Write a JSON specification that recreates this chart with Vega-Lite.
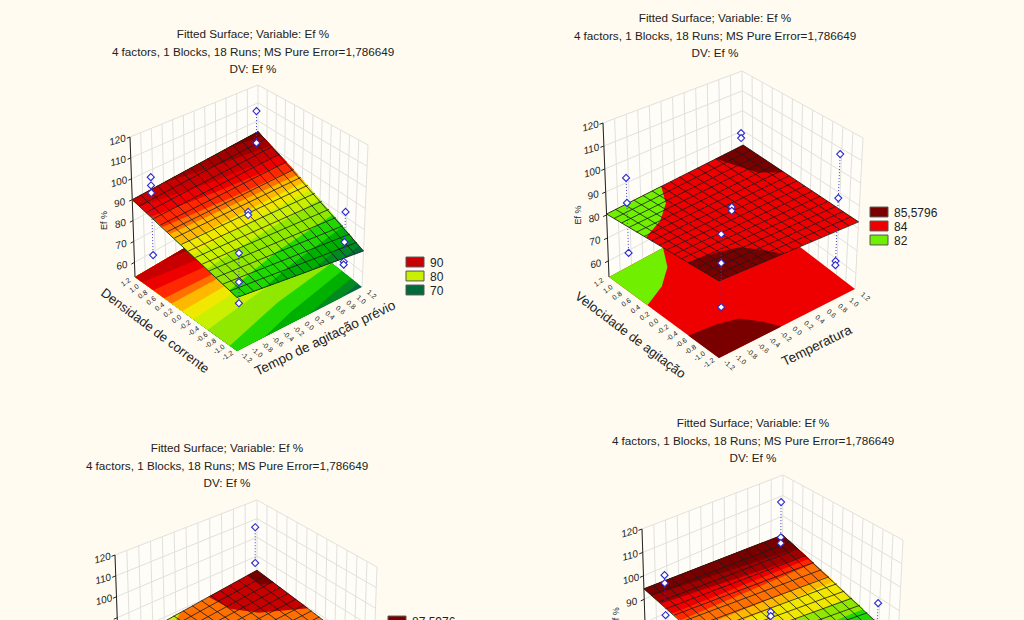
{"$schema":"https://vega.github.io/schema/vega-lite/v6.json","width":1024,"height":620,"padding":0,"autosize":{"type":"fit","contains":"padding"},"background":"#fffbf0","config":{"view":{"stroke":null}},
"datasets":{"panels":[
{"p":1,"fFx":237,"fFy":351,"fLx":135,"fLy":277,"fRx":362,"fRy":287,"fBx":258,"fBy":205,"tFx":237,"tFy":195,"tLx":130,"tLy":137,"tRx":368,"tRy":145,"tBx":258,"tBy":85,"tx":253,"ty":34,"lx":415,"ly":262},
{"p":2,"fFx":719,"fFy":358,"fLx":609,"fLy":277,"fRx":855,"fRy":289,"fBx":744,"fBy":204,"tFx":719,"tFy":187,"tLx":603,"tLy":123,"tRx":863,"tRy":138,"tBx":742,"tBy":71,"tx":715,"ty":18,"lx":879,"ly":212},
{"p":3,"fFx":235,"fFy":780,"fLx":120,"fLy":695,"fRx":372,"fRy":705,"fBx":257,"fBy":625,"tFx":240,"tFy":615,"tLx":115,"tLy":555,"tRx":377,"tRy":567,"tBx":257,"tBy":500,"tx":227,"ty":448,"lx":397,"ly":621},
{"p":4,"fFx":757,"fFy":767,"fLx":647,"fLy":686,"fRx":895,"fRy":698,"fBx":782,"fBy":612,"tFx":757,"tFy":592,"tLx":642,"tLy":529,"tRx":903,"tRy":540,"tBx":783,"tBy":475,"tx":753,"ty":423,"lx":0,"ly":0}],
"rows":[
{"k":"ti","p":[1,2,3,4],"n":0,"t":"Fitted Surface; Variable: Ef %"},{"k":"ti","p":[1,2,3,4],"n":1,"t":"4 factors, 1 Blocks, 18 Runs; MS Pure Error=1,786649"},{"k":"ti","p":[1,2,3,4],"n":2,"t":"DV: Ef %"},
{"k":"lg","p":[1],"n":0,"t":"90","c":"c"},{"k":"lg","p":[1],"n":1,"t":"80","c":"i"},{"k":"lg","p":[1],"n":2,"t":"70","c":"n"},
{"k":"lg","p":[2],"n":0,"t":"85,5796","c":"a"},{"k":"lg","p":[2],"n":1,"t":"84","c":"d"},{"k":"lg","p":[2],"n":2,"t":"82","c":"o"},
{"k":"lg","p":[3],"n":0,"t":"87,5976","c":"a"},
{"k":"w","p":[1,2,3,4],"i":0,"a":1.2,"b":-1.2,"z":53},{"k":"w","p":[1,2,3,4],"i":1,"a":1.2,"b":1.2,"z":53},{"k":"w","p":[1,2,3,4],"i":2,"a":-1.2,"b":1.2,"z":53},{"k":"w","p":[1,2,3,4],"i":3,"a":-1.2,"b":1.2,"z":120},{"k":"w","p":[1,2,3,4],"i":4,"a":1.2,"b":1.2,"z":120},{"k":"w","p":[1,2,3,4],"i":5,"a":1.2,"b":-1.2,"z":120},
{"k":"g","p":[1,2,3,4],"a":1.2,"b":-1.2,"z":53,"a2":1.2,"b2":-1.2,"z2":120},{"k":"g","p":[1,2,3,4],"a":1.2,"b":-1,"z":53,"a2":1.2,"b2":-1,"z2":120},{"k":"g","p":[1,2,3,4],"a":1.2,"b":-0.8,"z":53,"a2":1.2,"b2":-0.8,"z2":120},{"k":"g","p":[1,2,3,4],"a":1.2,"b":-0.6,"z":53,"a2":1.2,"b2":-0.6,"z2":120},{"k":"g","p":[1,2,3,4],"a":1.2,"b":-0.4,"z":53,"a2":1.2,"b2":-0.4,"z2":120},{"k":"g","p":[1,2,3,4],"a":1.2,"b":-0.2,"z":53,"a2":1.2,"b2":-0.2,"z2":120},{"k":"g","p":[1,2,3,4],"a":1.2,"b":0,"z":53,"a2":1.2,"b2":0,"z2":120},{"k":"g","p":[1,2,3,4],"a":1.2,"b":0.2,"z":53,"a2":1.2,"b2":0.2,"z2":120},{"k":"g","p":[1,2,3,4],"a":1.2,"b":0.4,"z":53,"a2":1.2,"b2":0.4,"z2":120},{"k":"g","p":[1,2,3,4],"a":1.2,"b":0.6,"z":53,"a2":1.2,"b2":0.6,"z2":120},{"k":"g","p":[1,2,3,4],"a":1.2,"b":0.8,"z":53,"a2":1.2,"b2":0.8,"z2":120},{"k":"g","p":[1,2,3,4],"a":1.2,"b":1,"z":53,"a2":1.2,"b2":1,"z2":120},{"k":"g","p":[1,2,3,4],"a":1.2,"b":1.2,"z":53,"a2":1.2,"b2":1.2,"z2":120},
{"k":"g","p":[1,2,3,4],"a":1,"b":1.2,"z":53,"a2":1,"b2":1.2,"z2":120},{"k":"g","p":[1,2,3,4],"a":0.8,"b":1.2,"z":53,"a2":0.8,"b2":1.2,"z2":120},{"k":"g","p":[1,2,3,4],"a":0.6,"b":1.2,"z":53,"a2":0.6,"b2":1.2,"z2":120},{"k":"g","p":[1,2,3,4],"a":0.4,"b":1.2,"z":53,"a2":0.4,"b2":1.2,"z2":120},{"k":"g","p":[1,2,3,4],"a":0.2,"b":1.2,"z":53,"a2":0.2,"b2":1.2,"z2":120},{"k":"g","p":[1,2,3,4],"a":0,"b":1.2,"z":53,"a2":0,"b2":1.2,"z2":120},{"k":"g","p":[1,2,3,4],"a":-0.2,"b":1.2,"z":53,"a2":-0.2,"b2":1.2,"z2":120},{"k":"g","p":[1,2,3,4],"a":-0.4,"b":1.2,"z":53,"a2":-0.4,"b2":1.2,"z2":120},{"k":"g","p":[1,2,3,4],"a":-0.6,"b":1.2,"z":53,"a2":-0.6,"b2":1.2,"z2":120},{"k":"g","p":[1,2,3,4],"a":-0.8,"b":1.2,"z":53,"a2":-0.8,"b2":1.2,"z2":120},{"k":"g","p":[1,2,3,4],"a":-1,"b":1.2,"z":53,"a2":-1,"b2":1.2,"z2":120},{"k":"g","p":[1,2,3,4],"a":-1.2,"b":1.2,"z":53,"a2":-1.2,"b2":1.2,"z2":120},
{"k":"g","p":[1,2,3,4],"a":1.2,"b":-1.2,"z":120,"a2":1.2,"b2":1.2,"z2":120},{"k":"g","p":[1,2,3,4],"a":1.2,"b":1.2,"z":120,"a2":-1.2,"b2":1.2,"z2":120},{"k":"g","p":[1,2,3,4],"a":1.2,"b":-1.2,"z":110,"a2":1.2,"b2":1.2,"z2":110},{"k":"g","p":[1,2,3,4],"a":1.2,"b":1.2,"z":110,"a2":-1.2,"b2":1.2,"z2":110},{"k":"g","p":[1,2,3,4],"a":1.2,"b":-1.2,"z":100,"a2":1.2,"b2":1.2,"z2":100},{"k":"g","p":[1,2,3,4],"a":1.2,"b":1.2,"z":100,"a2":-1.2,"b2":1.2,"z2":100},{"k":"g","p":[1,2,3,4],"a":1.2,"b":-1.2,"z":90,"a2":1.2,"b2":1.2,"z2":90},{"k":"g","p":[1,2,3,4],"a":1.2,"b":1.2,"z":90,"a2":-1.2,"b2":1.2,"z2":90},{"k":"g","p":[1,2,3,4],"a":1.2,"b":-1.2,"z":80,"a2":1.2,"b2":1.2,"z2":80},{"k":"g","p":[1,2,3,4],"a":1.2,"b":1.2,"z":80,"a2":-1.2,"b2":1.2,"z2":80},{"k":"g","p":[1,2,3,4],"a":1.2,"b":-1.2,"z":70,"a2":1.2,"b2":1.2,"z2":70},{"k":"g","p":[1,2,3,4],"a":1.2,"b":1.2,"z":70,"a2":-1.2,"b2":1.2,"z2":70},{"k":"g","p":[1,2,3,4],"a":1.2,"b":-1.2,"z":60,"a2":1.2,"b2":1.2,"z2":60},{"k":"g","p":[1,2,3,4],"a":1.2,"b":1.2,"z":60,"a2":-1.2,"b2":1.2,"z2":60},
{"k":"ax","p":[1,2,3,4],"a":1.2,"b":-1.2,"z":53,"a2":1.2,"b2":-1.2,"z2":120},
{"k":"ax","p":[1,2,3,4],"a":1.2,"b":-1.2,"z":120,"a2":1.2,"b2":-1.26,"z2":120},{"k":"ax","p":[1,2,3,4],"a":1.2,"b":-1.2,"z":110,"a2":1.2,"b2":-1.26,"z2":110},{"k":"ax","p":[1,2,3,4],"a":1.2,"b":-1.2,"z":100,"a2":1.2,"b2":-1.26,"z2":100},{"k":"ax","p":[1,2,3,4],"a":1.2,"b":-1.2,"z":90,"a2":1.2,"b2":-1.26,"z2":90},{"k":"ax","p":[1,2,3,4],"a":1.2,"b":-1.2,"z":80,"a2":1.2,"b2":-1.26,"z2":80},{"k":"ax","p":[1,2,3,4],"a":1.2,"b":-1.2,"z":70,"a2":1.2,"b2":-1.26,"z2":70},{"k":"ax","p":[1,2,3,4],"a":1.2,"b":-1.2,"z":60,"a2":1.2,"b2":-1.26,"z2":60},
{"k":"zl","p":[1,2,3,4],"a":1.2,"b":-1.2,"z":120,"t":"120"},{"k":"zl","p":[1,2,3,4],"a":1.2,"b":-1.2,"z":110,"t":"110"},{"k":"zl","p":[1,2,3,4],"a":1.2,"b":-1.2,"z":100,"t":"100"},{"k":"zl","p":[1,2,4],"a":1.2,"b":-1.2,"z":90,"t":"90"},{"k":"zl","p":[1,2],"a":1.2,"b":-1.2,"z":80,"t":"80"},{"k":"zl","p":[1,2],"a":1.2,"b":-1.2,"z":70,"t":"70"},{"k":"zl","p":[1,2],"a":1.2,"b":-1.2,"z":60,"t":"60"},
{"k":"ze","p":[1,2],"a":1.2,"b":-1.2,"z":80,"t":"Ef %"},{"k":"ze","p":[4],"a":1.2,"b":-1.2,"z":82.5,"t":"Ef %"},
{"k":"lb","p":[1,2],"a":1.2,"b":-1.38,"z":53,"t":"1.2"},{"k":"lb","p":[1,2],"a":1,"b":-1.38,"z":53,"t":"1.0"},{"k":"lb","p":[1,2],"a":0.8,"b":-1.38,"z":53,"t":"0.8"},{"k":"lb","p":[1,2],"a":0.6,"b":-1.38,"z":53,"t":"0.6"},{"k":"lb","p":[1,2],"a":0.4,"b":-1.38,"z":53,"t":"0.4"},{"k":"lb","p":[1,2],"a":0.2,"b":-1.38,"z":53,"t":"0.2"},{"k":"lb","p":[1,2],"a":0,"b":-1.38,"z":53,"t":"0.0"},{"k":"lb","p":[1,2],"a":-0.2,"b":-1.38,"z":53,"t":"-0.2"},{"k":"lb","p":[1,2],"a":-0.4,"b":-1.38,"z":53,"t":"-0.4"},{"k":"lb","p":[1,2],"a":-0.6,"b":-1.38,"z":53,"t":"-0.6"},{"k":"lb","p":[1,2],"a":-0.8,"b":-1.38,"z":53,"t":"-0.8"},{"k":"lb","p":[1,2],"a":-1,"b":-1.38,"z":53,"t":"-1.0"},{"k":"lb","p":[1,2],"a":-1.2,"b":-1.38,"z":53,"t":"-1.2"},
{"k":"lc","p":[1,2],"a":-1.42,"b":1.2,"z":53,"t":"1.2"},{"k":"lc","p":[1,2],"a":-1.42,"b":1,"z":53,"t":"1.0"},{"k":"lc","p":[1,2],"a":-1.42,"b":0.8,"z":53,"t":"0.8"},{"k":"lc","p":[1,2],"a":-1.42,"b":0.6,"z":53,"t":"0.6"},{"k":"lc","p":[1,2],"a":-1.42,"b":0.4,"z":53,"t":"0.4"},{"k":"lc","p":[1,2],"a":-1.42,"b":0.2,"z":53,"t":"0.2"},{"k":"lc","p":[1,2],"a":-1.42,"b":0,"z":53,"t":"0.0"},{"k":"lc","p":[1,2],"a":-1.42,"b":-0.2,"z":53,"t":"-0.2"},{"k":"lc","p":[1,2],"a":-1.42,"b":-0.4,"z":53,"t":"-0.4"},{"k":"lc","p":[1,2],"a":-1.42,"b":-0.6,"z":53,"t":"-0.6"},{"k":"lc","p":[1,2],"a":-1.42,"b":-0.8,"z":53,"t":"-0.8"},{"k":"lc","p":[1,2],"a":-1.42,"b":-1,"z":53,"t":"-1.0"},{"k":"lc","p":[1,2],"a":-1.42,"b":-1.2,"z":53,"t":"-1.2"},
{"k":"fa","p":[1],"a":0,"b":-1.8,"z":53,"t":"Densidade de corrente"},{"k":"fb","p":[1],"a":-1.8,"b":0,"z":53,"t":"Tempo de agitação prévio"},
{"k":"fa","p":[2],"a":0,"b":-1.8,"z":53,"t":"Velocidade de agitação"},{"k":"fb","p":[2],"a":-1.85,"b":0,"z":53,"t":"Temperatura"},
{"k":"s","p":[1],"g":"1.0","c":"n","i":0,"a":-1.2,"b":-1.2,"z":76},{"k":"s","p":[1],"g":"1.0","c":"n","i":1,"a":1.2,"b":-1.2,"z":90},{"k":"s","p":[1],"g":"1.0","c":"n","i":2,"a":1.2,"b":1.2,"z":94},{"k":"s","p":[1],"g":"1.0","c":"n","i":3,"a":-1.2,"b":1.2,"z":70},
{"k":"s","p":[1],"g":"1.1","c":"m","i":0,"a":-1.2,"b":0.8,"z":71},{"k":"s","p":[1],"g":"1.1","c":"m","i":1,"a":-1.1,"b":1.2,"z":71},{"k":"s","p":[1],"g":"1.1","c":"m","i":2,"a":1.2,"b":1.2,"z":94},{"k":"s","p":[1],"g":"1.1","c":"m","i":3,"a":1.2,"b":-1.2,"z":90},{"k":"s","p":[1],"g":"1.1","c":"m","i":4,"a":-1.2,"b":-1.2,"z":76},
{"k":"s","p":[1],"g":"1.2","c":"l","i":0,"a":-1.2,"b":0.2,"z":72.5},{"k":"s","p":[1],"g":"1.2","c":"l","i":1,"a":-1.06,"b":0.72,"z":72.5},{"k":"s","p":[1],"g":"1.2","c":"l","i":2,"a":-0.95,"b":1.2,"z":72.5},{"k":"s","p":[1],"g":"1.2","c":"l","i":3,"a":1.2,"b":1.2,"z":94},{"k":"s","p":[1],"g":"1.2","c":"l","i":4,"a":1.2,"b":-1.2,"z":90},{"k":"s","p":[1],"g":"1.2","c":"l","i":5,"a":-1.2,"b":-1.2,"z":76},
{"k":"s","p":[1],"g":"1.3","c":"k","i":0,"a":-1.2,"b":-0.68,"z":74.7},{"k":"s","p":[1],"g":"1.3","c":"k","i":1,"a":-0.99,"b":0,"z":74.7},{"k":"s","p":[1],"g":"1.3","c":"k","i":2,"a":-0.73,"b":1.2,"z":74.7},{"k":"s","p":[1],"g":"1.3","c":"k","i":3,"a":1.2,"b":1.2,"z":94},{"k":"s","p":[1],"g":"1.3","c":"k","i":4,"a":1.2,"b":-1.2,"z":90},{"k":"s","p":[1],"g":"1.3","c":"k","i":5,"a":-1.2,"b":-1.2,"z":76},
{"k":"s","p":[1],"g":"1.4","c":"j","i":0,"a":-1.03,"b":-1.2,"z":77},{"k":"s","p":[1],"g":"1.4","c":"j","i":1,"a":-0.69,"b":0,"z":77},{"k":"s","p":[1],"g":"1.4","c":"j","i":2,"a":-0.5,"b":1.2,"z":77},{"k":"s","p":[1],"g":"1.4","c":"j","i":3,"a":1.2,"b":1.2,"z":94},{"k":"s","p":[1],"g":"1.4","c":"j","i":4,"a":1.2,"b":-1.2,"z":90},
{"k":"s","p":[1],"g":"1.5","c":"i","i":0,"a":-0.51,"b":-1.2,"z":80},{"k":"s","p":[1],"g":"1.5","c":"i","i":1,"a":-0.32,"b":0,"z":80},{"k":"s","p":[1],"g":"1.5","c":"i","i":2,"a":-0.2,"b":1.2,"z":80},{"k":"s","p":[1],"g":"1.5","c":"i","i":3,"a":1.2,"b":1.2,"z":94},{"k":"s","p":[1],"g":"1.5","c":"i","i":4,"a":1.2,"b":-1.2,"z":90},
{"k":"s","p":[1],"g":"1.6","c":"h","i":0,"a":-0.17,"b":-1.2,"z":82},{"k":"s","p":[1],"g":"1.6","c":"h","i":1,"a":-0.06,"b":0,"z":82},{"k":"s","p":[1],"g":"1.6","c":"h","i":2,"a":0,"b":1.2,"z":82},{"k":"s","p":[1],"g":"1.6","c":"h","i":3,"a":1.2,"b":1.2,"z":94},{"k":"s","p":[1],"g":"1.6","c":"h","i":4,"a":1.2,"b":-1.2,"z":90},
{"k":"s","p":[1],"g":"1.7","c":"g","i":0,"a":0.09,"b":-1.2,"z":83.5},{"k":"s","p":[1],"g":"1.7","c":"g","i":1,"a":0.13,"b":0,"z":83.5},{"k":"s","p":[1],"g":"1.7","c":"g","i":2,"a":0.15,"b":1.2,"z":83.5},{"k":"s","p":[1],"g":"1.7","c":"g","i":3,"a":1.2,"b":1.2,"z":94},{"k":"s","p":[1],"g":"1.7","c":"g","i":4,"a":1.2,"b":-1.2,"z":90},
{"k":"s","p":[1],"g":"1.8","c":"f","i":0,"a":0.34,"b":-1.2,"z":85},{"k":"s","p":[1],"g":"1.8","c":"f","i":1,"a":0.32,"b":0,"z":85},{"k":"s","p":[1],"g":"1.8","c":"f","i":2,"a":0.3,"b":1.2,"z":85},{"k":"s","p":[1],"g":"1.8","c":"f","i":3,"a":1.2,"b":1.2,"z":94},{"k":"s","p":[1],"g":"1.8","c":"f","i":4,"a":1.2,"b":-1.2,"z":90},
{"k":"s","p":[1],"g":"1.9","c":"e","i":0,"a":0.51,"b":-1.2,"z":86},{"k":"s","p":[1],"g":"1.9","c":"e","i":1,"a":0.44,"b":0,"z":86},{"k":"s","p":[1],"g":"1.9","c":"e","i":2,"a":0.4,"b":1.2,"z":86},{"k":"s","p":[1],"g":"1.9","c":"e","i":3,"a":1.2,"b":1.2,"z":94},{"k":"s","p":[1],"g":"1.9","c":"e","i":4,"a":1.2,"b":-1.2,"z":90},
{"k":"s","p":[1],"g":"1.10","c":"d","i":0,"a":0.77,"b":-1.2,"z":87.5},{"k":"s","p":[1],"g":"1.10","c":"d","i":1,"a":0.63,"b":0,"z":87.5},{"k":"s","p":[1],"g":"1.10","c":"d","i":2,"a":0.55,"b":1.2,"z":87.5},{"k":"s","p":[1],"g":"1.10","c":"d","i":3,"a":1.2,"b":1.2,"z":94},{"k":"s","p":[1],"g":"1.10","c":"d","i":4,"a":1.2,"b":-1.2,"z":90},
{"k":"s","p":[1],"g":"1.11","c":"c","i":0,"a":1.03,"b":-1.2,"z":89},{"k":"s","p":[1],"g":"1.11","c":"c","i":1,"a":0.82,"b":0,"z":89},{"k":"s","p":[1],"g":"1.11","c":"c","i":2,"a":0.7,"b":1.2,"z":89},{"k":"s","p":[1],"g":"1.11","c":"c","i":3,"a":1.2,"b":1.2,"z":94},{"k":"s","p":[1],"g":"1.11","c":"c","i":4,"a":1.2,"b":-1.2,"z":90},
{"k":"s","p":[1],"g":"1.12","c":"b","i":0,"a":1.2,"b":-0.6,"z":91},{"k":"s","p":[1],"g":"1.12","c":"b","i":1,"a":1.07,"b":0,"z":91},{"k":"s","p":[1],"g":"1.12","c":"b","i":2,"a":0.9,"b":1.2,"z":91},{"k":"s","p":[1],"g":"1.12","c":"b","i":3,"a":1.2,"b":1.2,"z":94},
{"k":"s","p":[1],"g":"1.13","c":"a","i":0,"a":1.2,"b":0.6,"z":93},{"k":"s","p":[1],"g":"1.13","c":"a","i":1,"a":1.1,"b":1.2,"z":93},{"k":"s","p":[1],"g":"1.13","c":"a","i":2,"a":1.2,"b":1.2,"z":94},
{"k":"s","p":[2],"g":"2.0","c":"d","i":0,"a":-1.2,"b":-1.2,"z":83.2},{"k":"s","p":[2],"g":"2.0","c":"d","i":1,"a":1.2,"b":-1.2,"z":80.4},{"k":"s","p":[2],"g":"2.0","c":"d","i":2,"a":1.2,"b":1.2,"z":82.7},{"k":"s","p":[2],"g":"2.0","c":"d","i":3,"a":-1.2,"b":1.2,"z":82.8},
{"k":"s","p":[2],"g":"2.1","c":"o","i":0,"a":1.2,"b":-1.2,"z":80.4},{"k":"s","p":[2],"g":"2.1","c":"o","i":1,"a":1.2,"b":-0.24,"z":81.32},{"k":"s","p":[2],"g":"2.1","c":"o","i":2,"a":0.835,"b":-0.46,"z":81.41},{"k":"s","p":[2],"g":"2.1","c":"o","i":3,"a":0.557,"b":-0.785,"z":81.42},{"k":"s","p":[2],"g":"2.1","c":"o","i":4,"a":0.36,"b":-1.2,"z":81.38},
{"k":"s","p":[2],"g":"2.2","c":"a","i":0,"a":1.2,"b":0.72,"z":82.24},{"k":"s","p":[2],"g":"2.2","c":"a","i":1,"a":0.57,"b":0.93,"z":82.55},{"k":"s","p":[2],"g":"2.2","c":"a","i":2,"a":0.35,"b":1.2,"z":82.74},{"k":"s","p":[2],"g":"2.2","c":"a","i":3,"a":1.2,"b":1.2,"z":82.7},
{"k":"s","p":[2],"g":"2.3","c":"a","i":0,"a":-0.53,"b":-1.2,"z":82.42},{"k":"s","p":[2],"g":"2.3","c":"a","i":1,"a":-0.59,"b":-0.75,"z":82.54},{"k":"s","p":[2],"g":"2.3","c":"a","i":2,"a":-0.69,"b":-0.43,"z":82.66},{"k":"s","p":[2],"g":"2.3","c":"a","i":3,"a":-0.94,"b":-0.24,"z":82.85},{"k":"s","p":[2],"g":"2.3","c":"a","i":4,"a":-1.2,"b":-0.1,"z":83.02},{"k":"s","p":[2],"g":"2.3","c":"a","i":5,"a":-1.2,"b":-1.2,"z":83.2},
{"k":"s","p":[3],"g":"3.0","c":"f","i":0,"a":-1.2,"b":-1.2,"z":77.4},{"k":"s","p":[3],"g":"3.0","c":"f","i":1,"a":1.2,"b":-1.2,"z":76},{"k":"s","p":[3],"g":"3.0","c":"f","i":2,"a":1.2,"b":1.2,"z":82.4},{"k":"s","p":[3],"g":"3.0","c":"f","i":3,"a":-1.2,"b":1.2,"z":75.7},
{"k":"s","p":[3],"g":"3.1","c":"i","i":0,"a":1.2,"b":-1.2,"z":76},{"k":"s","p":[3],"g":"3.1","c":"i","i":1,"a":1.2,"b":-0.12,"z":78.88},{"k":"s","p":[3],"g":"3.1","c":"i","i":2,"a":1.1,"b":-0.29,"z":78.37},{"k":"s","p":[3],"g":"3.1","c":"i","i":3,"a":0.72,"b":-1.2,"z":76.3},
{"k":"s","p":[3],"g":"3.2","c":"c","i":0,"a":1.2,"b":0.36,"z":80.16},{"k":"s","p":[3],"g":"3.2","c":"c","i":1,"a":0.8,"b":0.41,"z":79.62},{"k":"s","p":[3],"g":"3.2","c":"c","i":2,"a":0.5,"b":0.63,"z":79.49},{"k":"s","p":[3],"g":"3.2","c":"c","i":3,"a":0.15,"b":1.2,"z":79.48},{"k":"s","p":[3],"g":"3.2","c":"c","i":4,"a":1.2,"b":1.2,"z":82.4},
{"k":"s","p":[3],"g":"3.3","c":"a","i":0,"a":1.2,"b":1.04,"z":81.98},{"k":"s","p":[3],"g":"3.3","c":"a","i":1,"a":0.93,"b":1.04,"z":81.3},{"k":"s","p":[3],"g":"3.3","c":"a","i":2,"a":0.85,"b":1.2,"z":81.4},{"k":"s","p":[3],"g":"3.3","c":"a","i":3,"a":1.2,"b":1.2,"z":82.4},
{"k":"s","p":[4],"g":"4.0","c":"k","i":0,"a":-1.2,"b":-1.2,"z":82.5},{"k":"s","p":[4],"g":"4.0","c":"k","i":1,"a":1.2,"b":-1.2,"z":94.5},{"k":"s","p":[4],"g":"4.0","c":"k","i":2,"a":1.2,"b":1.2,"z":90.7},{"k":"s","p":[4],"g":"4.0","c":"k","i":3,"a":-1.2,"b":1.2,"z":76.7},
{"k":"s","p":[4],"g":"4.1","c":"j","i":0,"a":-0.6,"b":-1.2,"z":85.5},{"k":"s","p":[4],"g":"4.1","c":"j","i":1,"a":-0.48,"b":1.2,"z":80.9},{"k":"s","p":[4],"g":"4.1","c":"j","i":2,"a":1.2,"b":1.2,"z":90.7},{"k":"s","p":[4],"g":"4.1","c":"j","i":3,"a":1.2,"b":-1.2,"z":94.5},
{"k":"s","p":[4],"g":"4.2","c":"h","i":0,"a":-0.29,"b":-1.2,"z":87.1},{"k":"s","p":[4],"g":"4.2","c":"h","i":1,"a":-0.22,"b":1.2,"z":82.4},{"k":"s","p":[4],"g":"4.2","c":"h","i":2,"a":1.2,"b":1.2,"z":90.7},{"k":"s","p":[4],"g":"4.2","c":"h","i":3,"a":1.2,"b":-1.2,"z":94.5},
{"k":"s","p":[4],"g":"4.3","c":"g","i":0,"a":0,"b":-1.2,"z":88.5},{"k":"s","p":[4],"g":"4.3","c":"g","i":1,"a":0.14,"b":1.2,"z":84.5},{"k":"s","p":[4],"g":"4.3","c":"g","i":2,"a":1.2,"b":1.2,"z":90.7},{"k":"s","p":[4],"g":"4.3","c":"g","i":3,"a":1.2,"b":-1.2,"z":94.5},
{"k":"s","p":[4],"g":"4.4","c":"f","i":0,"a":0.19,"b":-1.2,"z":89.5},{"k":"s","p":[4],"g":"4.4","c":"f","i":1,"a":0.26,"b":1.2,"z":85.2},{"k":"s","p":[4],"g":"4.4","c":"f","i":2,"a":1.2,"b":1.2,"z":90.7},{"k":"s","p":[4],"g":"4.4","c":"f","i":3,"a":1.2,"b":-1.2,"z":94.5},
{"k":"s","p":[4],"g":"4.5","c":"e","i":0,"a":0.43,"b":-1.2,"z":90.7},{"k":"s","p":[4],"g":"4.5","c":"e","i":1,"a":0.55,"b":1.2,"z":86.9},{"k":"s","p":[4],"g":"4.5","c":"e","i":2,"a":1.2,"b":1.2,"z":90.7},{"k":"s","p":[4],"g":"4.5","c":"e","i":3,"a":1.2,"b":-1.2,"z":94.5},
{"k":"s","p":[4],"g":"4.6","c":"d","i":0,"a":0.6,"b":-1.2,"z":91.5},{"k":"s","p":[4],"g":"4.6","c":"d","i":1,"a":0.65,"b":1.2,"z":87.5},{"k":"s","p":[4],"g":"4.6","c":"d","i":2,"a":1.2,"b":1.2,"z":90.7},{"k":"s","p":[4],"g":"4.6","c":"d","i":3,"a":1.2,"b":-1.2,"z":94.5},
{"k":"s","p":[4],"g":"4.7","c":"b","i":0,"a":0.84,"b":-1.2,"z":92.7},{"k":"s","p":[4],"g":"4.7","c":"b","i":1,"a":0.72,"b":1.2,"z":87.9},{"k":"s","p":[4],"g":"4.7","c":"b","i":2,"a":1.2,"b":1.2,"z":90.7},{"k":"s","p":[4],"g":"4.7","c":"b","i":3,"a":1.2,"b":-1.2,"z":94.5},
{"k":"s","p":[4],"g":"4.8","c":"a","i":0,"a":1.03,"b":-1.2,"z":93.7},{"k":"s","p":[4],"g":"4.8","c":"a","i":1,"a":0.89,"b":1.2,"z":88.9},{"k":"s","p":[4],"g":"4.8","c":"a","i":2,"a":1.2,"b":1.2,"z":90.7},{"k":"s","p":[4],"g":"4.8","c":"a","i":3,"a":1.2,"b":-1.2,"z":94.5},
{"k":"m","p":[1],"a":-1.2,"b":-1.2,"z":76,"a2":-1.2,"b2":1.2,"z2":70},{"k":"m","p":[1],"a":-1.04,"b":-1.2,"z":76.9,"a2":-1.04,"b2":1.2,"z2":71.6},{"k":"m","p":[1],"a":-0.88,"b":-1.2,"z":77.9,"a2":-0.88,"b2":1.2,"z2":73.2},{"k":"m","p":[1],"a":-0.72,"b":-1.2,"z":78.8,"a2":-0.72,"b2":1.2,"z2":74.8},{"k":"m","p":[1],"a":-0.56,"b":-1.2,"z":79.7,"a2":-0.56,"b2":1.2,"z2":76.4},{"k":"m","p":[1],"a":-0.4,"b":-1.2,"z":80.7,"a2":-0.4,"b2":1.2,"z2":78},{"k":"m","p":[1],"a":-0.24,"b":-1.2,"z":81.6,"a2":-0.24,"b2":1.2,"z2":79.6},{"k":"m","p":[1],"a":-0.08,"b":-1.2,"z":82.5,"a2":-0.08,"b2":1.2,"z2":81.2},{"k":"m","p":[1],"a":0.08,"b":-1.2,"z":83.5,"a2":0.08,"b2":1.2,"z2":82.8},{"k":"m","p":[1],"a":0.24,"b":-1.2,"z":84.4,"a2":0.24,"b2":1.2,"z2":84.4},{"k":"m","p":[1],"a":0.4,"b":-1.2,"z":85.3,"a2":0.4,"b2":1.2,"z2":86},{"k":"m","p":[1],"a":0.56,"b":-1.2,"z":86.3,"a2":0.56,"b2":1.2,"z2":87.6},{"k":"m","p":[1],"a":0.72,"b":-1.2,"z":87.2,"a2":0.72,"b2":1.2,"z2":89.2},{"k":"m","p":[1],"a":0.88,"b":-1.2,"z":88.1,"a2":0.88,"b2":1.2,"z2":90.8},{"k":"m","p":[1],"a":1.04,"b":-1.2,"z":89.1,"a2":1.04,"b2":1.2,"z2":92.4},{"k":"m","p":[1],"a":1.2,"b":-1.2,"z":90,"a2":1.2,"b2":1.2,"z2":94},
{"k":"m","p":[1],"a":-1.2,"b":-1.2,"z":76,"a2":1.2,"b2":-1.2,"z2":90},{"k":"m","p":[1],"a":-1.2,"b":-1.04,"z":75.6,"a2":1.2,"b2":-1.04,"z2":90.3},{"k":"m","p":[1],"a":-1.2,"b":-0.88,"z":75.2,"a2":1.2,"b2":-0.88,"z2":90.5},{"k":"m","p":[1],"a":-1.2,"b":-0.72,"z":74.8,"a2":1.2,"b2":-0.72,"z2":90.8},{"k":"m","p":[1],"a":-1.2,"b":-0.56,"z":74.4,"a2":1.2,"b2":-0.56,"z2":91.1},{"k":"m","p":[1],"a":-1.2,"b":-0.4,"z":74,"a2":1.2,"b2":-0.4,"z2":91.3},{"k":"m","p":[1],"a":-1.2,"b":-0.24,"z":73.6,"a2":1.2,"b2":-0.24,"z2":91.6},{"k":"m","p":[1],"a":-1.2,"b":-0.08,"z":73.2,"a2":1.2,"b2":-0.08,"z2":91.9},{"k":"m","p":[1],"a":-1.2,"b":0.08,"z":72.8,"a2":1.2,"b2":0.08,"z2":92.1},{"k":"m","p":[1],"a":-1.2,"b":0.24,"z":72.4,"a2":1.2,"b2":0.24,"z2":92.4},{"k":"m","p":[1],"a":-1.2,"b":0.4,"z":72,"a2":1.2,"b2":0.4,"z2":92.7},{"k":"m","p":[1],"a":-1.2,"b":0.56,"z":71.6,"a2":1.2,"b2":0.56,"z2":92.9},{"k":"m","p":[1],"a":-1.2,"b":0.72,"z":71.2,"a2":1.2,"b2":0.72,"z2":93.2},{"k":"m","p":[1],"a":-1.2,"b":0.88,"z":70.8,"a2":1.2,"b2":0.88,"z2":93.5},{"k":"m","p":[1],"a":-1.2,"b":1.04,"z":70.4,"a2":1.2,"b2":1.04,"z2":93.7},{"k":"m","p":[1],"a":-1.2,"b":1.2,"z":70,"a2":1.2,"b2":1.2,"z2":94},
{"k":"m","p":[2],"a":-1.2,"b":-1.2,"z":83.2,"a2":-1.2,"b2":1.2,"z2":82.75},{"k":"m","p":[2],"a":-1.04,"b":-1.2,"z":83,"a2":-1.04,"b2":1.2,"z2":82.75},{"k":"m","p":[2],"a":-0.88,"b":-1.2,"z":82.8,"a2":-0.88,"b2":1.2,"z2":82.75},{"k":"m","p":[2],"a":-0.72,"b":-1.2,"z":82.6,"a2":-0.72,"b2":1.2,"z2":82.75},{"k":"m","p":[2],"a":-0.56,"b":-1.2,"z":82.5,"a2":-0.56,"b2":1.2,"z2":82.75},{"k":"m","p":[2],"a":-0.4,"b":-1.2,"z":82.3,"a2":-0.4,"b2":1.2,"z2":82.75},{"k":"m","p":[2],"a":-0.24,"b":-1.2,"z":82.1,"a2":-0.24,"b2":1.2,"z2":82.75},{"k":"m","p":[2],"a":-0.08,"b":-1.2,"z":81.9,"a2":-0.08,"b2":1.2,"z2":82.75},{"k":"m","p":[2],"a":0.08,"b":-1.2,"z":81.7,"a2":0.08,"b2":1.2,"z2":82.75},{"k":"m","p":[2],"a":0.24,"b":-1.2,"z":81.5,"a2":0.24,"b2":1.2,"z2":82.75},{"k":"m","p":[2],"a":0.4,"b":-1.2,"z":81.3,"a2":0.4,"b2":1.2,"z2":82.75},{"k":"m","p":[2],"a":0.56,"b":-1.2,"z":81.1,"a2":0.56,"b2":1.2,"z2":82.75},{"k":"m","p":[2],"a":0.72,"b":-1.2,"z":81,"a2":0.72,"b2":1.2,"z2":82.75},{"k":"m","p":[2],"a":0.88,"b":-1.2,"z":80.8,"a2":0.88,"b2":1.2,"z2":82.75},{"k":"m","p":[2],"a":1.04,"b":-1.2,"z":80.6,"a2":1.04,"b2":1.2,"z2":82.75},{"k":"m","p":[2],"a":1.2,"b":-1.2,"z":80.4,"a2":1.2,"b2":1.2,"z2":82.7},
{"k":"m","p":[2],"a":-1.2,"b":-1.2,"z":83.2,"a2":1.2,"b2":-1.2,"z2":80.4},{"k":"m","p":[2],"a":-1.2,"b":-1.04,"z":83.17,"a2":1.2,"b2":-1.04,"z2":80.55},{"k":"m","p":[2],"a":-1.2,"b":-0.88,"z":83.15,"a2":1.2,"b2":-0.88,"z2":80.7},{"k":"m","p":[2],"a":-1.2,"b":-0.72,"z":83.12,"a2":1.2,"b2":-0.72,"z2":80.86},{"k":"m","p":[2],"a":-1.2,"b":-0.56,"z":83.09,"a2":1.2,"b2":-0.56,"z2":81.01},{"k":"m","p":[2],"a":-1.2,"b":-0.4,"z":83.07,"a2":1.2,"b2":-0.4,"z2":81.17},{"k":"m","p":[2],"a":-1.2,"b":-0.24,"z":83.04,"a2":1.2,"b2":-0.24,"z2":81.32},{"k":"m","p":[2],"a":-1.2,"b":-0.08,"z":83.01,"a2":1.2,"b2":-0.08,"z2":81.47},{"k":"m","p":[2],"a":-1.2,"b":0.08,"z":82.99,"a2":1.2,"b2":0.08,"z2":81.63},{"k":"m","p":[2],"a":-1.2,"b":0.24,"z":82.96,"a2":1.2,"b2":0.24,"z2":81.78},{"k":"m","p":[2],"a":-1.2,"b":0.4,"z":82.93,"a2":1.2,"b2":0.4,"z2":81.93},{"k":"m","p":[2],"a":-1.2,"b":0.56,"z":82.91,"a2":1.2,"b2":0.56,"z2":82.09},{"k":"m","p":[2],"a":-1.2,"b":0.72,"z":82.88,"a2":1.2,"b2":0.72,"z2":82.24},{"k":"m","p":[2],"a":-1.2,"b":0.88,"z":82.85,"a2":1.2,"b2":0.88,"z2":82.39},{"k":"m","p":[2],"a":-1.2,"b":1.04,"z":82.83,"a2":1.2,"b2":1.04,"z2":82.55},{"k":"m","p":[2],"a":-1.2,"b":1.2,"z":82.8,"a2":1.2,"b2":1.2,"z2":82.7},
{"k":"m","p":[3],"a":-1.2,"b":-1.2,"z":77.4,"a2":-1.2,"b2":1.2,"z2":75.7},{"k":"m","p":[3],"a":-1.04,"b":-1.2,"z":77.3,"a2":-1.04,"b2":1.2,"z2":76.1},{"k":"m","p":[3],"a":-0.88,"b":-1.2,"z":77.2,"a2":-0.88,"b2":1.2,"z2":76.6},{"k":"m","p":[3],"a":-0.72,"b":-1.2,"z":77.1,"a2":-0.72,"b2":1.2,"z2":77},{"k":"m","p":[3],"a":-0.56,"b":-1.2,"z":77,"a2":-0.56,"b2":1.2,"z2":77.5},{"k":"m","p":[3],"a":-0.4,"b":-1.2,"z":76.9,"a2":-0.4,"b2":1.2,"z2":77.9},{"k":"m","p":[3],"a":-0.24,"b":-1.2,"z":76.8,"a2":-0.24,"b2":1.2,"z2":78.4},{"k":"m","p":[3],"a":-0.08,"b":-1.2,"z":76.7,"a2":-0.08,"b2":1.2,"z2":78.8},{"k":"m","p":[3],"a":0.08,"b":-1.2,"z":76.7,"a2":0.08,"b2":1.2,"z2":79.3},{"k":"m","p":[3],"a":0.24,"b":-1.2,"z":76.6,"a2":0.24,"b2":1.2,"z2":79.7},{"k":"m","p":[3],"a":0.4,"b":-1.2,"z":76.5,"a2":0.4,"b2":1.2,"z2":80.2},{"k":"m","p":[3],"a":0.56,"b":-1.2,"z":76.4,"a2":0.56,"b2":1.2,"z2":80.6},{"k":"m","p":[3],"a":0.72,"b":-1.2,"z":76.3,"a2":0.72,"b2":1.2,"z2":81.1},{"k":"m","p":[3],"a":0.88,"b":-1.2,"z":76.2,"a2":0.88,"b2":1.2,"z2":81.5},{"k":"m","p":[3],"a":1.04,"b":-1.2,"z":76.1,"a2":1.04,"b2":1.2,"z2":82},{"k":"m","p":[3],"a":1.2,"b":-1.2,"z":76,"a2":1.2,"b2":1.2,"z2":82.4},
{"k":"m","p":[3],"a":-1.2,"b":-1.2,"z":77.4,"a2":1.2,"b2":-1.2,"z2":76},{"k":"m","p":[3],"a":-1.2,"b":-1.04,"z":77.3,"a2":1.2,"b2":-1.04,"z2":76.4},{"k":"m","p":[3],"a":-1.2,"b":-0.88,"z":77.2,"a2":1.2,"b2":-0.88,"z2":76.9},{"k":"m","p":[3],"a":-1.2,"b":-0.72,"z":77.1,"a2":1.2,"b2":-0.72,"z2":77.3},{"k":"m","p":[3],"a":-1.2,"b":-0.56,"z":77,"a2":1.2,"b2":-0.56,"z2":77.7},{"k":"m","p":[3],"a":-1.2,"b":-0.4,"z":76.8,"a2":1.2,"b2":-0.4,"z2":78.1},{"k":"m","p":[3],"a":-1.2,"b":-0.24,"z":76.7,"a2":1.2,"b2":-0.24,"z2":78.6},{"k":"m","p":[3],"a":-1.2,"b":-0.08,"z":76.6,"a2":1.2,"b2":-0.08,"z2":79},{"k":"m","p":[3],"a":-1.2,"b":0.08,"z":76.5,"a2":1.2,"b2":0.08,"z2":79.4},{"k":"m","p":[3],"a":-1.2,"b":0.24,"z":76.4,"a2":1.2,"b2":0.24,"z2":79.8},{"k":"m","p":[3],"a":-1.2,"b":0.4,"z":76.3,"a2":1.2,"b2":0.4,"z2":80.3},{"k":"m","p":[3],"a":-1.2,"b":0.56,"z":76.2,"a2":1.2,"b2":0.56,"z2":80.7},{"k":"m","p":[3],"a":-1.2,"b":0.72,"z":76,"a2":1.2,"b2":0.72,"z2":81.1},{"k":"m","p":[3],"a":-1.2,"b":0.88,"z":75.9,"a2":1.2,"b2":0.88,"z2":81.5},{"k":"m","p":[3],"a":-1.2,"b":1.04,"z":75.8,"a2":1.2,"b2":1.04,"z2":82},{"k":"m","p":[3],"a":-1.2,"b":1.2,"z":75.7,"a2":1.2,"b2":1.2,"z2":82.4},
{"k":"m","p":[4],"a":-1.2,"b":-1.2,"z":82.5,"a2":-1.2,"b2":1.2,"z2":76.7},{"k":"m","p":[4],"a":-1.04,"b":-1.2,"z":83.3,"a2":-1.04,"b2":1.2,"z2":77.6},{"k":"m","p":[4],"a":-0.88,"b":-1.2,"z":84.1,"a2":-0.88,"b2":1.2,"z2":78.6},{"k":"m","p":[4],"a":-0.72,"b":-1.2,"z":84.9,"a2":-0.72,"b2":1.2,"z2":79.5},{"k":"m","p":[4],"a":-0.56,"b":-1.2,"z":85.7,"a2":-0.56,"b2":1.2,"z2":80.4},{"k":"m","p":[4],"a":-0.4,"b":-1.2,"z":86.5,"a2":-0.4,"b2":1.2,"z2":81.4},{"k":"m","p":[4],"a":-0.24,"b":-1.2,"z":87.3,"a2":-0.24,"b2":1.2,"z2":82.3},{"k":"m","p":[4],"a":-0.08,"b":-1.2,"z":88.1,"a2":-0.08,"b2":1.2,"z2":83.2},{"k":"m","p":[4],"a":0.08,"b":-1.2,"z":88.9,"a2":0.08,"b2":1.2,"z2":84.2},{"k":"m","p":[4],"a":0.24,"b":-1.2,"z":89.7,"a2":0.24,"b2":1.2,"z2":85.1},{"k":"m","p":[4],"a":0.4,"b":-1.2,"z":90.5,"a2":0.4,"b2":1.2,"z2":86},{"k":"m","p":[4],"a":0.56,"b":-1.2,"z":91.3,"a2":0.56,"b2":1.2,"z2":87},{"k":"m","p":[4],"a":0.72,"b":-1.2,"z":92.1,"a2":0.72,"b2":1.2,"z2":87.9},{"k":"m","p":[4],"a":0.88,"b":-1.2,"z":92.9,"a2":0.88,"b2":1.2,"z2":88.8},{"k":"m","p":[4],"a":1.04,"b":-1.2,"z":93.7,"a2":1.04,"b2":1.2,"z2":89.8},{"k":"m","p":[4],"a":1.2,"b":-1.2,"z":94.5,"a2":1.2,"b2":1.2,"z2":90.7},
{"k":"m","p":[4],"a":-1.2,"b":-1.2,"z":82.5,"a2":1.2,"b2":-1.2,"z2":94.5},{"k":"m","p":[4],"a":-1.2,"b":-1.04,"z":82.1,"a2":1.2,"b2":-1.04,"z2":94.2},{"k":"m","p":[4],"a":-1.2,"b":-0.88,"z":81.7,"a2":1.2,"b2":-0.88,"z2":94},{"k":"m","p":[4],"a":-1.2,"b":-0.72,"z":81.3,"a2":1.2,"b2":-0.72,"z2":93.7},{"k":"m","p":[4],"a":-1.2,"b":-0.56,"z":81,"a2":1.2,"b2":-0.56,"z2":93.5},{"k":"m","p":[4],"a":-1.2,"b":-0.4,"z":80.6,"a2":1.2,"b2":-0.4,"z2":93.2},{"k":"m","p":[4],"a":-1.2,"b":-0.24,"z":80.2,"a2":1.2,"b2":-0.24,"z2":93},{"k":"m","p":[4],"a":-1.2,"b":-0.08,"z":79.8,"a2":1.2,"b2":-0.08,"z2":92.7},{"k":"m","p":[4],"a":-1.2,"b":0.08,"z":79.4,"a2":1.2,"b2":0.08,"z2":92.5},{"k":"m","p":[4],"a":-1.2,"b":0.24,"z":79,"a2":1.2,"b2":0.24,"z2":92.2},{"k":"m","p":[4],"a":-1.2,"b":0.4,"z":78.6,"a2":1.2,"b2":0.4,"z2":92},{"k":"m","p":[4],"a":-1.2,"b":0.56,"z":78.2,"a2":1.2,"b2":0.56,"z2":91.7},{"k":"m","p":[4],"a":-1.2,"b":0.72,"z":77.9,"a2":1.2,"b2":0.72,"z2":91.5},{"k":"m","p":[4],"a":-1.2,"b":0.88,"z":77.5,"a2":1.2,"b2":0.88,"z2":91.2},{"k":"m","p":[4],"a":-1.2,"b":1.04,"z":77.1,"a2":1.2,"b2":1.04,"z2":91},{"k":"m","p":[4],"a":-1.2,"b":1.2,"z":76.7,"a2":1.2,"b2":1.2,"z2":90.7},
{"k":"d","p":[1],"a":1,"b":-1,"z":101,"a2":1,"b2":-1,"z2":63.6},{"k":"d","p":[1],"a":1,"b":1,"z":110.9,"a2":1,"b2":1,"z2":93.6},{"k":"d","p":[1],"a":-1,"b":-1,"z":90.7,"a2":-1,"b2":-1,"z2":68.8},{"k":"d","p":[1],"a":-1,"b":1,"z":87.9,"a2":-1,"b2":1,"z2":63.6},
{"k":"d","p":[2],"a":1,"b":-1,"z":96.5,"a2":1,"b2":-1,"z2":63.8},{"k":"d","p":[2],"a":1,"b":1,"z":94.3,"a2":1,"b2":1,"z2":91.9},{"k":"d","p":[2],"a":-1,"b":-1,"z":97.4,"a2":-1,"b2":-1,"z2":68.3},{"k":"d","p":[2],"a":-1,"b":1,"z":112.2,"a2":-1,"b2":1,"z2":63},
{"k":"d","p":[3],"a":1,"b":1,"z":111,"a2":1,"b2":1,"z2":92.2},
{"k":"d","p":[4],"a":1,"b":1,"z":111.8,"a2":1,"b2":1,"z2":92.2},{"k":"d","p":[4],"a":1,"b":-1,"z":100.6,"a2":1,"b2":-1,"z2":83.5},{"k":"d","p":[4],"a":-1,"b":1,"z":92.7,"a2":-1,"b2":1,"z2":75},
{"k":"o","p":[1],"a":1,"b":-1,"z":101},{"k":"o","p":[1],"a":1,"b":-1,"z":97},{"k":"o","p":[1],"a":1,"b":-1,"z":93.4},{"k":"o","p":[1],"a":1,"b":-1,"z":63.6},{"k":"o","p":[1],"a":1,"b":1,"z":110.9},{"k":"o","p":[1],"a":1,"b":1,"z":93.6},{"k":"o","p":[1],"a":0,"b":0,"z":85.7},{"k":"o","p":[1],"a":0,"b":0,"z":84.2},{"k":"o","p":[1],"a":-1,"b":-1,"z":90.7},{"k":"o","p":[1],"a":-1,"b":-1,"z":78},{"k":"o","p":[1],"a":-1,"b":-1,"z":68.8},{"k":"o","p":[1],"a":-1,"b":1,"z":87.9},{"k":"o","p":[1],"a":-1,"b":1,"z":73.6},{"k":"o","p":[1],"a":-1,"b":1,"z":64.3},{"k":"o","p":[1],"a":-1,"b":1,"z":62.9},
{"k":"o","p":[2],"a":1,"b":-1,"z":96.5},{"k":"o","p":[2],"a":1,"b":-1,"z":85.6},{"k":"o","p":[2],"a":1,"b":-1,"z":63.8},{"k":"o","p":[2],"a":1,"b":1,"z":94.3},{"k":"o","p":[2],"a":1,"b":1,"z":91.9},{"k":"o","p":[2],"a":0,"b":0,"z":86},{"k":"o","p":[2],"a":0,"b":0,"z":84.3},{"k":"o","p":[2],"a":-1,"b":-1,"z":97.4},{"k":"o","p":[2],"a":-1,"b":-1,"z":85.9},{"k":"o","p":[2],"a":-1,"b":-1,"z":68.3},{"k":"o","p":[2],"a":-1,"b":1,"z":112.2},{"k":"o","p":[2],"a":-1,"b":1,"z":92.7},{"k":"o","p":[2],"a":-1,"b":1,"z":64.8},{"k":"o","p":[2],"a":-1,"b":1,"z":63},
{"k":"o","p":[3],"a":1,"b":1,"z":111},{"k":"o","p":[3],"a":1,"b":1,"z":92.2},
{"k":"o","p":[4],"a":1,"b":1,"z":111.8},{"k":"o","p":[4],"a":1,"b":1,"z":95},{"k":"o","p":[4],"a":1,"b":1,"z":92.2},{"k":"o","p":[4],"a":1,"b":-1,"z":100.6},{"k":"o","p":[4],"a":1,"b":-1,"z":97.2},{"k":"o","p":[4],"a":1,"b":-1,"z":83.5},{"k":"o","p":[4],"a":0,"b":0,"z":86.7},{"k":"o","p":[4],"a":0,"b":0,"z":84.9},{"k":"o","p":[4],"a":-1,"b":1,"z":92.7}
]},
"data":{"name":"rows"},
"transform":[
{"flatten":["p"]},
{"lookup":"p","from":{"data":{"name":"panels"},"key":"p","fields":["fFx","fFy","fLx","fLy","fRx","fRy","fBx","fBy","tFx","tFy","tLx","tLy","tRx","tRy","tBx","tBy","tx","ty","lx","ly"]}},
{"calculate":"(datum.a+1.2)/2.4","as":"u"},{"calculate":"(datum.b+1.2)/2.4","as":"v"},{"calculate":"(datum.z-53)/67","as":"h"},
{"calculate":"(1-datum.u)*(1-datum.v)*datum.fFx+datum.u*(1-datum.v)*datum.fLx+(1-datum.u)*datum.v*datum.fRx+datum.u*datum.v*datum.fBx","as":"flx"},
{"calculate":"(1-datum.u)*(1-datum.v)*datum.fFy+datum.u*(1-datum.v)*datum.fLy+(1-datum.u)*datum.v*datum.fRy+datum.u*datum.v*datum.fBy","as":"fly"},
{"calculate":"(1-datum.u)*(1-datum.v)*datum.tFx+datum.u*(1-datum.v)*datum.tLx+(1-datum.u)*datum.v*datum.tRx+datum.u*datum.v*datum.tBx","as":"tlx"},
{"calculate":"(1-datum.u)*(1-datum.v)*datum.tFy+datum.u*(1-datum.v)*datum.tLy+(1-datum.u)*datum.v*datum.tRy+datum.u*datum.v*datum.tBy","as":"tly"},
{"calculate":"datum.flx+(datum.tlx-datum.flx)*datum.h","as":"x"},{"calculate":"datum.fly+(datum.tly-datum.fly)*datum.h","as":"y"},
{"calculate":"(datum.a2+1.2)/2.4","as":"u2"},{"calculate":"(datum.b2+1.2)/2.4","as":"v2"},{"calculate":"(datum.z2-53)/67","as":"h2"},
{"calculate":"(1-datum.u2)*(1-datum.v2)*datum.fFx+datum.u2*(1-datum.v2)*datum.fLx+(1-datum.u2)*datum.v2*datum.fRx+datum.u2*datum.v2*datum.fBx","as":"flx2"},
{"calculate":"(1-datum.u2)*(1-datum.v2)*datum.fFy+datum.u2*(1-datum.v2)*datum.fLy+(1-datum.u2)*datum.v2*datum.fRy+datum.u2*datum.v2*datum.fBy","as":"fly2"},
{"calculate":"(1-datum.u2)*(1-datum.v2)*datum.tFx+datum.u2*(1-datum.v2)*datum.tLx+(1-datum.u2)*datum.v2*datum.tRx+datum.u2*datum.v2*datum.tBx","as":"tlx2"},
{"calculate":"(1-datum.u2)*(1-datum.v2)*datum.tFy+datum.u2*(1-datum.v2)*datum.tLy+(1-datum.u2)*datum.v2*datum.tRy+datum.u2*datum.v2*datum.tBy","as":"tly2"},
{"calculate":"datum.flx2+(datum.tlx2-datum.flx2)*datum.h2","as":"xe"},{"calculate":"datum.fly2+(datum.tly2-datum.fly2)*datum.h2","as":"ye"}
],
"encoding":{"x":{"field":"x","type":"quantitative","scale":{"domain":[0,1024],"nice":false,"zero":false},"axis":null},"y":{"field":"y","type":"quantitative","scale":{"domain":[620,0],"nice":false,"zero":false},"axis":null}},
"layer":[
{"transform":[{"filter":"datum.k=='w'"}],"mark":{"type":"line","fill":"#fffdf8","stroke":null,"clip":true},"encoding":{"detail":{"field":"p"},"order":{"field":"i"}}},
{"transform":[{"filter":"datum.k=='g'"}],"mark":{"type":"rule","stroke":"#e2e0dc","strokeWidth":1,"clip":true},"encoding":{"x2":{"field":"xe"},"y2":{"field":"ye"}}},
{"transform":[{"filter":"datum.k=='ax'"}],"mark":{"type":"rule","stroke":"#222222","strokeWidth":1,"clip":true},"encoding":{"x2":{"field":"xe"},"y2":{"field":"ye"}}},
{"transform":[{"filter":"datum.k=='s'&&datum.p<3"}],"mark":{"type":"line","stroke":null,"clip":true},"encoding":{"x":{"field":"flx","type":"quantitative","scale":{"domain":[0,1024],"nice":false,"zero":false},"axis":null},"y":{"field":"fly","type":"quantitative","scale":{"domain":[620,0],"nice":false,"zero":false},"axis":null},"detail":{"field":"g"},"order":{"field":"i"},"fill":{"field":"c","type":"nominal","legend":null,"scale":{"domain":["a","b","c","d","e","f","g","h","i","j","k","l","m","n","o"],"range":["#7a0000","#a00000","#c80000","#ee0000","#ff2800","#ff7000","#ffb800","#f0e800","#c8f000","#90e800","#20d800","#00b000","#008a20","#006b3a","#70f000"]}}}},
{"transform":[{"filter":"datum.k=='s'"}],"mark":{"type":"line","stroke":null,"clip":true},"encoding":{"detail":{"field":"g"},"order":{"field":"i"},"fill":{"field":"c","type":"nominal","legend":null,"scale":{"domain":["a","b","c","d","e","f","g","h","i","j","k","l","m","n","o"],"range":["#7a0000","#a00000","#c80000","#ee0000","#ff2800","#ff7000","#ffb800","#f0e800","#c8f000","#90e800","#20d800","#00b000","#008a20","#006b3a","#70f000"]}}}},
{"transform":[{"filter":"datum.k=='m'"}],"mark":{"type":"rule","stroke":"#1a1a1a","strokeWidth":0.8,"clip":true},"encoding":{"x2":{"field":"xe"},"y2":{"field":"ye"}}},
{"transform":[{"filter":"datum.k=='d'"}],"mark":{"type":"rule","stroke":"#3a3ad8","strokeWidth":1,"strokeDash":[1,2],"clip":true},"encoding":{"x2":{"field":"xe"},"y2":{"field":"ye"}}},
{"transform":[{"filter":"datum.k=='o'"}],"mark":{"type":"point","shape":"diamond","size":50,"filled":true,"fill":"#ffffff","stroke":"#2a2ad0","strokeWidth":1.1,"opacity":1,"clip":true}},
{"transform":[{"filter":"datum.k=='zl'"}],"mark":{"type":"text","font":"Liberation Sans","fontStyle":"italic","fontSize":10,"angle":345,"dx":-13,"align":"center","baseline":"middle","fill":"#222222","clip":true},"encoding":{"text":{"field":"t"}}},
{"transform":[{"filter":"datum.k=='ze'"}],"mark":{"type":"text","font":"Liberation Sans","fontSize":9,"angle":270,"dy":-29,"align":"center","baseline":"middle","fill":"#222222","clip":true},"encoding":{"text":{"field":"t"}}},
{"transform":[{"filter":"datum.k=='lb'"}],"mark":{"type":"text","font":"Liberation Sans","fontSize":7,"angle":325,"align":"center","baseline":"middle","fill":"#222222","clip":true},"encoding":{"text":{"field":"t"}}},
{"transform":[{"filter":"datum.k=='lc'"}],"mark":{"type":"text","font":"Liberation Sans","fontSize":7,"angle":40,"align":"center","baseline":"middle","fill":"#222222","clip":true},"encoding":{"text":{"field":"t"}}},
{"transform":[{"filter":"datum.k=='fa'"}],"mark":{"type":"text","font":"Liberation Sans","fontSize":13,"angle":37,"align":"center","baseline":"middle","fill":"#222222"},"encoding":{"text":{"field":"t"}}},
{"transform":[{"filter":"datum.k=='fb'"}],"mark":{"type":"text","font":"Liberation Sans","fontSize":13.5,"angle":334,"align":"center","baseline":"middle","fill":"#222222"},"encoding":{"text":{"field":"t"}}},
{"transform":[{"filter":"datum.k=='ti'"},{"calculate":"datum.tx","as":"x"},{"calculate":"datum.ty+datum.n*17.7","as":"y"}],"mark":{"type":"text","font":"Liberation Sans","fontSize":11.7,"align":"center","baseline":"middle","fill":"#222222","clip":true},"encoding":{"text":{"field":"t"}}},
{"transform":[{"filter":"datum.k=='lg'"},{"calculate":"datum.lx","as":"x"},{"calculate":"datum.ly+datum.n*14","as":"y"}],"mark":{"type":"point","shape":"M-1,-0.55H1V0.55H-1Z","size":324,"filled":true,"opacity":1,"stroke":"#555555","strokeWidth":1,"clip":true},"encoding":{"fill":{"field":"c","type":"nominal","legend":null,"scale":{"domain":["a","b","c","d","e","f","g","h","i","j","k","l","m","n","o"],"range":["#7a0000","#a00000","#c80000","#ee0000","#ff2800","#ff7000","#ffb800","#f0e800","#c8f000","#90e800","#20d800","#00b000","#008a20","#006b3a","#70f000"]}}}},
{"transform":[{"filter":"datum.k=='lg'"},{"calculate":"datum.lx+15","as":"x"},{"calculate":"datum.ly+1+datum.n*14","as":"y"}],"mark":{"type":"text","font":"Liberation Sans","fontSize":12,"align":"left","baseline":"middle","fill":"#222222","clip":true},"encoding":{"text":{"field":"t"}}}
]}
